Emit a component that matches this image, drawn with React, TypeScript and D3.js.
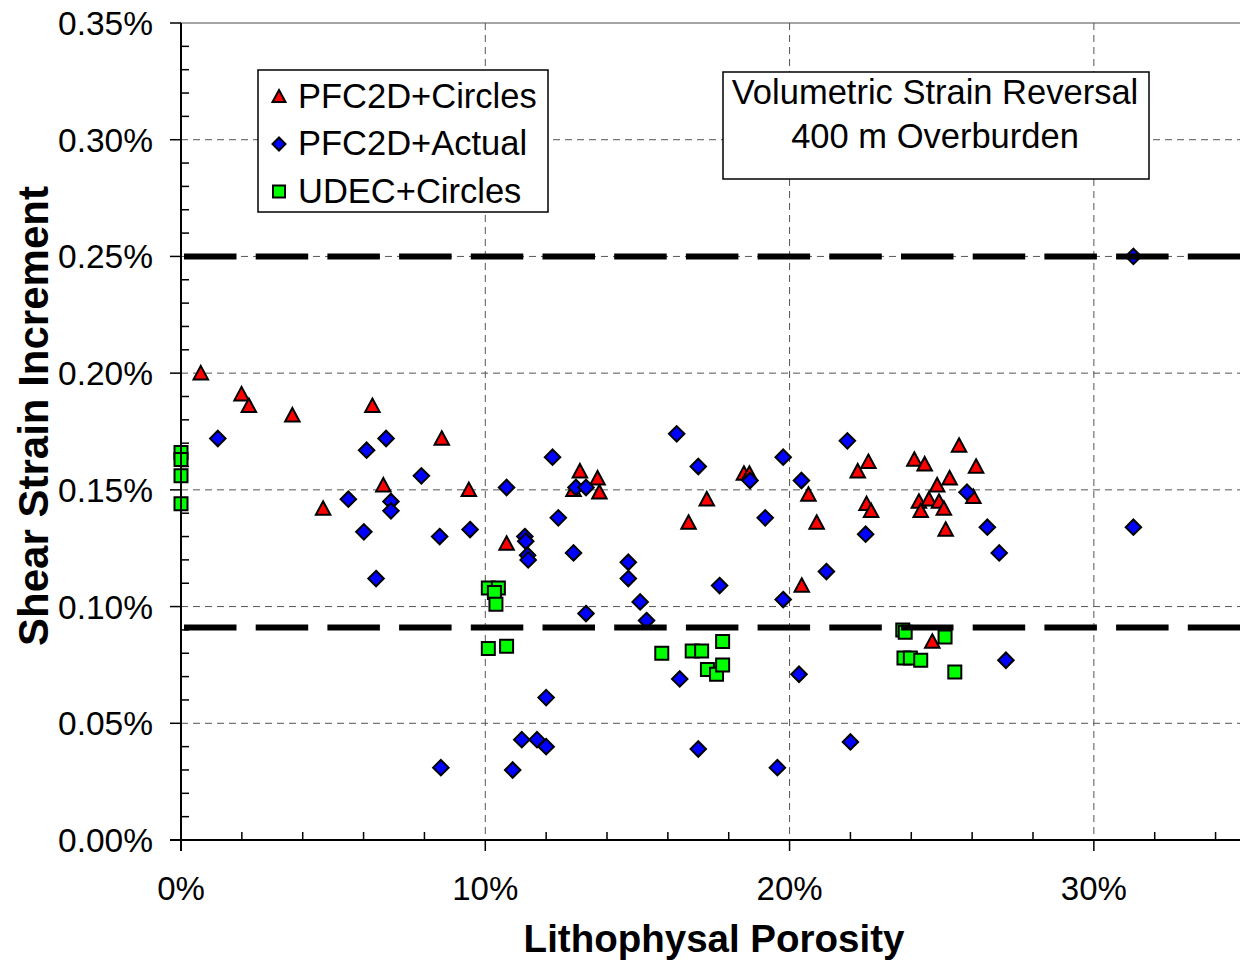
import React, { useEffect, useRef } from 'react';
import * as d3 from 'd3';

// [porosity %, shear strain increment %]
const pfcCircles: [number, number][] = [
  [0.65, 0.2], [1.99, 0.191], [2.23, 0.186], [3.66, 0.182], [6.29, 0.186], [8.57, 0.172],
  [6.65, 0.152], [9.46, 0.15], [4.67, 0.142], [13.11, 0.158], [12.9, 0.15], [13.69, 0.155],
  [13.75, 0.149], [10.7, 0.127], [17.28, 0.146], [16.68, 0.136], [18.5, 0.157], [18.68, 0.157],
  [20.62, 0.148], [20.89, 0.136], [20.4, 0.109], [22.24, 0.158], [22.59, 0.162], [22.53, 0.144],
  [22.68, 0.141], [24.1, 0.163], [24.44, 0.161], [25.57, 0.169], [26.13, 0.16], [25.26, 0.155],
  [24.85, 0.152], [26.04, 0.147], [24.25, 0.145], [24.58, 0.146], [24.91, 0.145], [24.31, 0.141],
  [25.07, 0.142], [25.13, 0.133], [24.69, 0.085],
];

const pfcActual: [number, number][] = [
  [1.21, 0.172], [6.1, 0.167], [6.74, 0.172], [7.9, 0.156], [5.5, 0.146], [6.9, 0.145],
  [6.9, 0.141], [6.01, 0.132], [8.5, 0.13], [9.5, 0.133], [6.41, 0.112], [8.54, 0.031],
  [10.7, 0.151], [12.21, 0.164], [12.98, 0.151], [13.31, 0.151], [12.4, 0.138], [11.3, 0.13],
  [11.33, 0.128], [11.39, 0.122], [11.41, 0.12], [12.9, 0.123], [14.7, 0.119], [14.7, 0.112],
  [15.09, 0.102], [15.3, 0.094], [13.31, 0.097], [16.29, 0.174], [17.0, 0.16], [18.7, 0.154],
  [19.79, 0.164], [20.39, 0.154], [19.2, 0.138], [17.7, 0.109], [19.79, 0.103], [16.39, 0.069],
  [12.0, 0.061], [11.2, 0.043], [11.7, 0.043], [12.0, 0.04], [10.9, 0.03], [17.0, 0.039],
  [19.6, 0.031], [20.31, 0.071], [22.0, 0.042], [27.11, 0.077], [21.9, 0.171], [25.83, 0.149],
  [22.5, 0.131], [26.5, 0.134], [26.89, 0.123], [31.3, 0.134], [21.21, 0.115], [31.3, 0.25],
];

const udecCircles: [number, number][] = [
  [0, 0.166], [0, 0.163], [0, 0.156], [0, 0.144], [10.1, 0.108], [10.43, 0.108],
  [10.3, 0.106], [10.35, 0.101], [10.1, 0.082], [10.7, 0.083], [15.8, 0.08], [16.8, 0.081],
  [17.11, 0.081], [17.8, 0.085], [17.3, 0.073], [17.6, 0.071], [17.8, 0.075], [23.72, 0.09],
  [23.8, 0.089], [25.11, 0.087], [23.76, 0.078], [23.97, 0.078], [24.31, 0.077], [25.43, 0.072],
];

const thresholds = [0.25, 0.091];
const xTickValues = [0, 10, 20, 30];
const yTickValues = [0, 0.05, 0.1, 0.15, 0.2, 0.25, 0.3, 0.35];
const legendLabels = ['PFC2D+Circles', 'PFC2D+Actual', 'UDEC+Circles'];
const noteLines = ['Volumetric Strain Reversal', '400 m Overburden'];

const FONT = '"Liberation Sans", Arial, sans-serif';

const triangle = (cx: number, cy: number, s: number) =>
  `M${cx},${cy - s / 2}L${cx + s / 2},${cy + s / 2 - 1}L${cx - s / 2},${cy + s / 2 - 1}Z`;
const diamond = (cx: number, cy: number, s: number) =>
  `M${cx},${cy - s / 2}L${cx + s / 2},${cy}L${cx},${cy + s / 2}L${cx - s / 2},${cy}Z`;
const square = (cx: number, cy: number, s: number) =>
  `M${cx - s / 2},${cy - s / 2}h${s}v${s}h${-s}Z`;

const App: React.FC = () => {
  const ref = useRef<SVGSVGElement | null>(null);

  useEffect(() => {
    if (!ref.current) return;
    const svg = d3.select(ref.current);
    svg.selectAll('*').remove();

    const left = 181;
    const top = 23;
    const bottom = 840;
    const right = 1246; // plot runs off the right edge of the page

    const x = d3.scaleLinear().domain([0, 35]).range([left, right]);
    const y = d3.scaleLinear().domain([0, 0.35]).range([bottom, top]);

    svg.append('rect').attr('width', 1240).attr('height', 964).attr('fill', '#fff');

    // plot frame
    svg
      .append('rect')
      .attr('x', left)
      .attr('y', top)
      .attr('width', right - left)
      .attr('height', bottom - top)
      .attr('fill', '#fff')
      .attr('stroke', '#888')
      .attr('stroke-width', 1.5);

    // grid
    const grid = svg.append('g').attr('stroke', '#555').attr('stroke-width', 1).attr('stroke-dasharray', '7,5');
    grid
      .selectAll('line.h')
      .data(yTickValues.filter((v) => v > 0 && v < 0.35))
      .enter()
      .append('line')
      .attr('x1', left)
      .attr('x2', right)
      .attr('y1', (d) => y(d))
      .attr('y2', (d) => y(d));
    grid
      .selectAll('line.v')
      .data(xTickValues.filter((v) => v > 0))
      .enter()
      .append('line')
      .attr('x1', (d) => x(d))
      .attr('x2', (d) => x(d))
      .attr('y1', top)
      .attr('y2', bottom);

    // markers
    const stroke = '#000';
    svg
      .append('g')
      .selectAll('path')
      .data(pfcCircles)
      .enter()
      .append('path')
      .attr('d', (d) => triangle(x(d[0]), y(d[1]), 14.5))
      .attr('fill', '#ff0000')
      .attr('stroke', stroke)
      .attr('stroke-width', 2);
    svg
      .append('g')
      .selectAll('path')
      .data(pfcActual)
      .enter()
      .append('path')
      .attr('d', (d) => diamond(x(d[0]), y(d[1]), 15.5))
      .attr('fill', '#0000ff')
      .attr('stroke', stroke)
      .attr('stroke-width', 2);
    svg
      .append('g')
      .selectAll('path')
      .data(udecCircles)
      .enter()
      .append('path')
      .attr('d', (d) => square(x(d[0]), y(d[1]), 13))
      .attr('fill', '#00ff00')
      .attr('stroke', stroke)
      .attr('stroke-width', 2);

    // thresholds
    svg
      .append('g')
      .selectAll('line')
      .data(thresholds)
      .enter()
      .append('line')
      .attr('x1', left + 3)
      .attr('x2', 1240)
      .attr('y1', (d) => y(d))
      .attr('y2', (d) => y(d))
      .attr('stroke', '#000')
      .attr('stroke-width', 6)
      .attr('stroke-dasharray', '52.5,19.2');

    // axes
    const axes = svg.append('g').attr('stroke', '#000').attr('stroke-width', 2);
    axes.append('line').attr('x1', left).attr('x2', left).attr('y1', top).attr('y2', bottom + 11);
    axes.append('line').attr('x1', left - 11).attr('x2', right).attr('y1', bottom).attr('y2', bottom);

    const yMinor = d3.range(0, 36).map((i) => i * 0.01).filter((_, i) => i % 5 !== 0);
    axes
      .selectAll('line.ymin')
      .data(yMinor)
      .enter()
      .append('line')
      .attr('x1', left)
      .attr('x2', left + 8)
      .attr('y1', (d) => y(d))
      .attr('y2', (d) => y(d))
      .attr('stroke-width', 1.5);
    axes
      .selectAll('line.ymaj')
      .data(yTickValues)
      .enter()
      .append('line')
      .attr('x1', left - 11)
      .attr('x2', left)
      .attr('y1', (d) => y(d))
      .attr('y2', (d) => y(d))
      .attr('stroke-width', 1.5);

    const xMinor = d3.range(0, 18).map((i) => i * 2).filter((v) => v % 10 !== 0);
    axes
      .selectAll('line.xmin')
      .data(xMinor)
      .enter()
      .append('line')
      .attr('x1', (d) => x(d))
      .attr('x2', (d) => x(d))
      .attr('y1', bottom - 8)
      .attr('y2', bottom)
      .attr('stroke-width', 1.5);
    axes
      .selectAll('line.xmaj')
      .data(xTickValues)
      .enter()
      .append('line')
      .attr('x1', (d) => x(d))
      .attr('x2', (d) => x(d))
      .attr('y1', bottom)
      .attr('y2', bottom + 11)
      .attr('stroke-width', 1.5);

    // tick labels
    svg
      .append('g')
      .selectAll('text')
      .data(yTickValues)
      .enter()
      .append('text')
      .attr('x', 153)
      .attr('y', (d) => y(d) + 12)
      .attr('text-anchor', 'end')
      .attr('font-family', FONT)
      .attr('font-size', 33.5)
      .text((d) => `${d.toFixed(2)}%`);
    svg
      .append('g')
      .selectAll('text')
      .data(xTickValues)
      .enter()
      .append('text')
      .attr('x', (d) => x(d))
      .attr('y', 900)
      .attr('text-anchor', 'middle')
      .attr('font-family', FONT)
      .attr('font-size', 33)
      .text((d) => `${d}%`);

    // axis titles
    svg
      .append('text')
      .attr('x', 714)
      .attr('y', 952)
      .attr('text-anchor', 'middle')
      .attr('font-family', FONT)
      .attr('font-weight', 'bold')
      .attr('font-size', 38.5)
      .text('Lithophysal Porosity');
    svg
      .append('text')
      .attr('transform', 'translate(48,416) rotate(-90)')
      .attr('text-anchor', 'middle')
      .attr('font-family', FONT)
      .attr('font-weight', 'bold')
      .attr('font-size', 42)
      .text('Shear Strain Increment');

    // legend
    const legend = svg.append('g');
    legend
      .append('rect')
      .attr('x', 258)
      .attr('y', 70)
      .attr('width', 290)
      .attr('height', 142)
      .attr('fill', '#fff')
      .attr('stroke', '#000')
      .attr('stroke-width', 1.5);
    const legendMarks = [
      (cy: number) => triangle(279, cy, 13),
      (cy: number) => diamond(279, cy, 13),
      (cy: number) => square(279, cy, 12),
    ];
    const legendFills = ['#ff0000', '#0000ff', '#00ff00'];
    legendLabels.forEach((label, i) => {
      const cy = 96.5 + i * 47.5;
      legend
        .append('path')
        .attr('d', legendMarks[i](cy))
        .attr('fill', legendFills[i])
        .attr('stroke', '#000')
        .attr('stroke-width', 2);
      legend
        .append('text')
        .attr('x', 298)
        .attr('y', cy + 11)
        .attr('font-family', FONT)
        .attr('font-size', 34.5)
        .text(label);
    });

    // note box
    const note = svg.append('g');
    note
      .append('rect')
      .attr('x', 723)
      .attr('y', 72)
      .attr('width', 426)
      .attr('height', 107)
      .attr('fill', '#fff')
      .attr('stroke', '#000')
      .attr('stroke-width', 1.5);
    noteLines.forEach((line, i) => {
      note
        .append('text')
        .attr('x', 935)
        .attr('y', 104 + i * 43.5)
        .attr('text-anchor', 'middle')
        .attr('font-family', FONT)
        .attr('font-size', 34.5)
        .text(line);
    });
  }, []);

  return (
    <svg
      ref={ref}
      width={1240}
      height={964}
      style={{ position: 'absolute', left: 0, top: 0, display: 'block' }}
    />
  );
};

export default App;
